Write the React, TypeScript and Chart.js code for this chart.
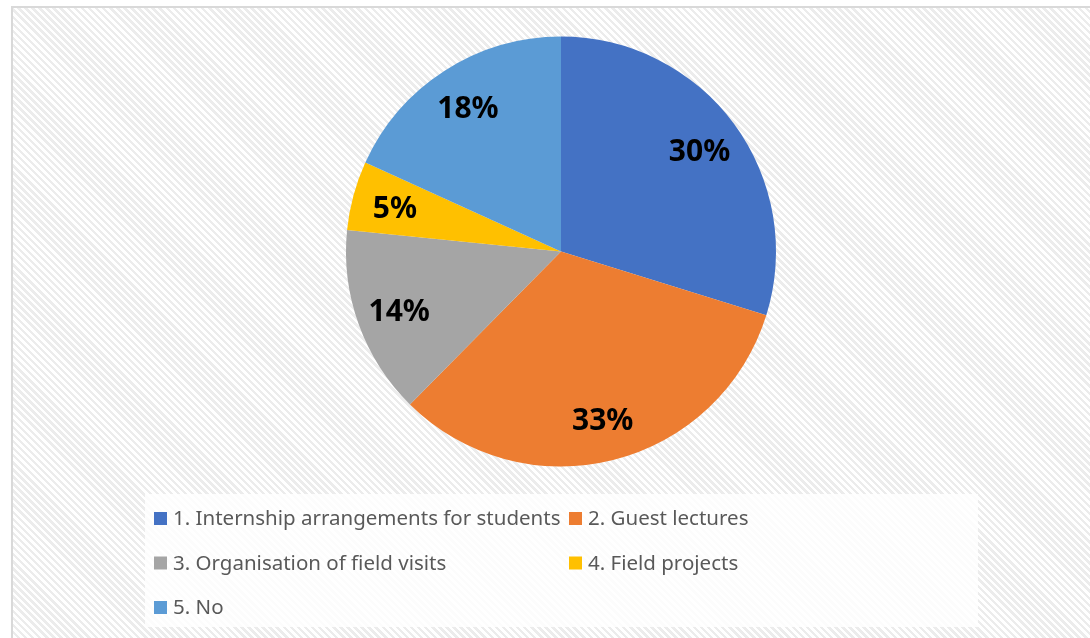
import React, { useEffect, useRef } from "react";
import { Chart, registerables } from "chart.js";

Chart.register(...registerables);

const categories = [
  "1. Internship arrangements for students",
  "2. Guest lectures",
  "3. Organisation of field visits",
  "4. Field projects",
  "5. No",
];
const shares = [29.8, 32.6, 14.2, 5.2, 18.2];
const colors = ["#4472C4", "#ED7D31", "#A5A5A5", "#FFC000", "#5B9BD5"];

const pieLabels = {
  id: "pieLabels",
  afterDatasetsDraw(chart: any) {
    const ctx = chart.ctx;
    const meta = chart.getDatasetMeta(0);
    const data = chart.data.datasets[0].data as number[];
    const total = data.reduce((a, b) => a + b, 0);
    ctx.save();
    ctx.font = "bold 30px 'Noto Sans'";
    ctx.fillStyle = "#000000";
    ctx.textAlign = "center";
    ctx.textBaseline = "middle";
    meta.data.forEach((arc: any, i: number) => {
      const p = arc.getProps(["x", "y", "startAngle", "endAngle", "outerRadius"], true);
      const mid = (p.startAngle + p.endAngle) / 2;
      const r = p.outerRadius * 0.8;
      const txt = Math.round((data[i] / total) * 100) + "%";
      ctx.fillText(txt, p.x + Math.cos(mid) * r, p.y + Math.sin(mid) * r + 3);
    });
    ctx.restore();
  },
};

const gridLegend = {
  id: "gridLegend",
  afterDraw(chart: any) {
    const ctx = chart.ctx;
    ctx.save();
    ctx.fillStyle = "rgba(255,255,255,0.82)";
    ctx.fillRect(145, 494, 833, 133);
    const labels = chart.data.labels as string[];
    const bg = chart.data.datasets[0].backgroundColor as string[];
    const colX = [154, 569];
    const rowY = [518.5, 563, 607.5];
    ctx.font = "20.5px 'Noto Sans'";
    ctx.textBaseline = "middle";
    ctx.textAlign = "left";
    labels.forEach((lab, i) => {
      const x = colX[i % 2];
      const y = rowY[Math.floor(i / 2)];
      ctx.fillStyle = bg[i];
      ctx.fillRect(x, y - 6.5, 13, 13);
      ctx.fillStyle = "#595959";
      ctx.fillText(lab, x + 19, y + 1);
    });
    ctx.restore();
  },
};

export default function App() {
  const ref = useRef<HTMLCanvasElement | null>(null);
  useEffect(() => {
    if (!ref.current) return;
    const chart = new Chart(ref.current, {
      type: "pie",
      data: {
        labels: categories,
        datasets: [
          {
            data: shares,
            backgroundColor: colors,
            borderWidth: 0,
          },
        ],
      },
      options: {
        responsive: false,
        animation: false,
        layout: { padding: { left: 100, right: 68, top: 36.5, bottom: 171.5 } },
        plugins: {
          legend: { display: false },
          tooltip: { enabled: false },
        },
      },
      plugins: [pieLabels, gridLegend],
    });
    return () => chart.destroy();
  }, []);

  return (
    <div
      style={{
        position: "fixed",
        left: 0,
        top: 0,
        width: 1090,
        height: 638,
        overflow: "hidden",
        background: "#ffffff",
      }}
    >
      <div
        style={{
          position: "absolute",
          left: 11,
          top: 6,
          width: 1100,
          height: 700,
          border: "2px solid #d9d9d9",
          background:
            "repeating-linear-gradient(45deg, #ffffff 0px, #ffffff 2.5px, #ececec 2.5px, #ececec 5px)",
        }}
      />
      <canvas
        ref={ref}
        width={1090}
        height={638}
        style={{ position: "absolute", left: 0, top: 0, width: 1090, height: 638 }}
      />
    </div>
  );
}
